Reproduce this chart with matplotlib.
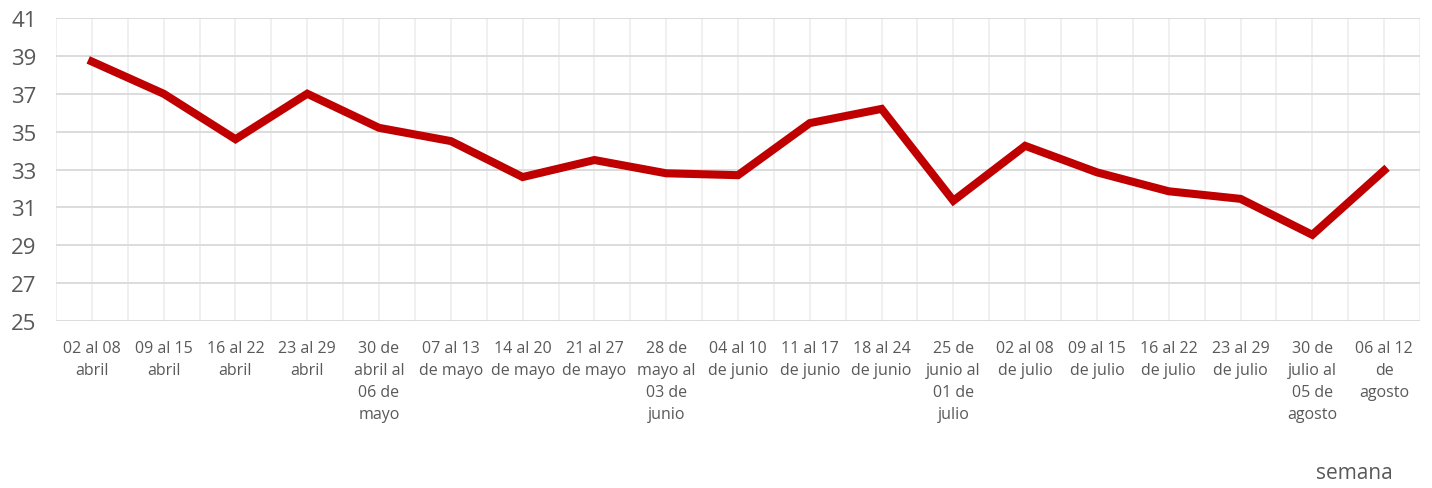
import matplotlib
matplotlib.use("Agg")
import matplotlib.pyplot as plt
import numpy as np

semanas = [
    "02 al 08\nabril", "09 al 15\nabril", "16 al 22\nabril", "23 al 29\nabril",
    "30 de\nabril al\n06 de\nmayo", "07 al 13\nde mayo", "14 al 20\nde mayo",
    "21 al 27\nde mayo", "28 de\nmayo al\n03 de\njunio", "04 al 10\nde junio",
    "11 al 17\nde junio", "18 al 24\nde junio", "25 de\njunio al\n01 de\njulio",
    "02 al 08\nde julio", "09 al 15\nde julio", "16 al 22\nde julio",
    "23 al 29\nde julio", "30 de\njulio al\n05 de\nagosto", "06 al 12\nde\nagosto",
]
valores = [38.7, 37.0, 34.6, 37.0, 35.2, 34.5, 32.6, 33.5, 32.8, 32.7,
           35.45, 36.2, 31.35, 34.25, 32.85, 31.85, 31.45, 29.55, 32.95]
y_ticks = [25, 27, 29, 31, 33, 35, 37, 39, 41]

plt.rcParams["font.family"] = ["Open Sans", "DejaVu Sans"]

fig = plt.figure(figsize=(14.32, 4.89), dpi=100)
ax = fig.add_axes([56 / 1432, 1 - 322 / 489, (1420 - 56) / 1432, (322 - 19) / 489])

x = np.arange(len(valores))
ax.plot(x, valores, color="#C00000", lw=5.8, solid_joinstyle="miter", zorder=3)

ax.set_xlim(-0.5, len(valores) - 0.5)
ax.set_ylim(25, 41)
ax.set_yticks(y_ticks)
ax.set_xticks(x)
ax.set_xticklabels(semanas, fontsize=11.5, color="#595959", linespacing=1.5)
ax.set_xticks(np.arange(-0.5, len(valores), 1.0), minor=True)
ax.tick_params(axis="y", labelsize=16, colors="#595959", length=0, pad=14)
ax.tick_params(axis="x", which="both", length=0, pad=14)

ax.grid(axis="y", color="#d9d9d9", lw=1.3, zorder=0)
ax.grid(axis="x", which="both", color="#efefef", lw=1.3, zorder=0)
for s in ax.spines.values():
    s.set_visible(False)

fig.text(1354 / 1432, 1 - 474 / 489, "semana", fontsize=15, color="#595959",
         ha="center", va="center")

fig.savefig("out.png", dpi=100)
